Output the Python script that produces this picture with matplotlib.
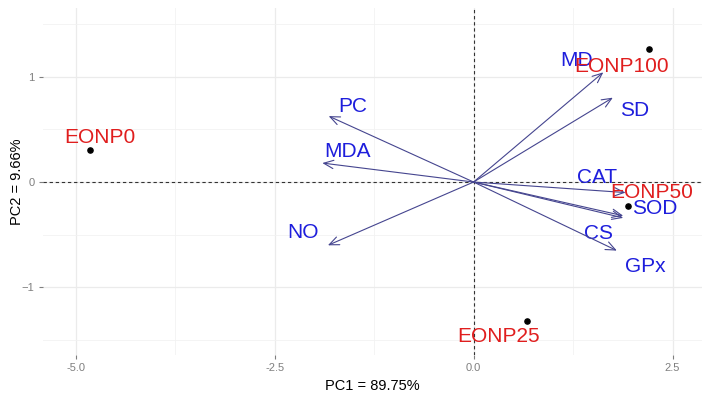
import matplotlib
matplotlib.use("Agg")
import matplotlib.pyplot as plt
import numpy as np

plt.rcParams['font.family'] = ['Liberation Sans', 'DejaVu Sans']

# sample scores (PC1, PC2)
samples = ["EONP0", "EONP25", "EONP50", "EONP100"]
sample_pc1 = [-4.82, 0.67, 1.94, 2.21]
sample_pc2 = [0.30, -1.32, -0.23, 1.26]

# variable loadings (arrow tips)
variables = ["MD", "SD", "CAT", "SOD", "CS", "GPx", "PC", "MDA", "NO"]
var_pc1 = [1.63, 1.75, 1.91, 1.88, 1.88, 1.80, -1.82, -1.90, -1.83]
var_pc2 = [1.04, 0.80, -0.10, -0.34, -0.32, -0.65, 0.625, 0.18, -0.60]

x_label = "PC1 = 89.75%"
y_label = "PC2 = 9.66%"

# label placement (repelled text positions, data units)
sample_text = {"EONP0": (-4.69, 0.42), "EONP25": (0.31, -1.46),
               "EONP50": (2.24, -0.10), "EONP100": (1.86, 1.10)}
var_text = {"MD": (1.30, 1.15), "SD": (2.02, 0.68), "CAT": (1.55, 0.04),
            "SOD": (2.28, -0.25), "CS": (1.57, -0.49), "GPx": (2.16, -0.80),
            "PC": (-1.52, 0.72), "MDA": (-1.58, 0.29), "NO": (-2.14, -0.48)}

fig = plt.figure(figsize=(7.08, 4.0), dpi=100)
ax = fig.add_axes([0.0607, 0.1125, 0.9308, 0.8675])

ax.set_xlim(-5.41, 2.87)
ax.set_ylim(-1.64, 1.65)

# theme_minimal style grid
ax.set_xticks([-5.0, -2.5, 0.0, 2.5])
ax.set_xticklabels(["-5.0", "-2.5", "0.0", "2.5"])
ax.set_yticks([-1, 0, 1])
ax.set_yticks([-1.5, -0.5, 0.5, 1.5], minor=True)
ax.set_xticks([-3.75, -1.25, 1.25], minor=True)
ax.grid(True, which='major', color='#EBEBEB', linewidth=0.9)
ax.grid(True, which='minor', color='#F2F2F2', linewidth=0.6)
ax.set_axisbelow(True)
for s in ax.spines.values():
    s.set_visible(False)
ax.tick_params(which='major', length=3, width=0.8, color='#7F7F7F',
               labelcolor='#7F7F7F', labelsize=8, pad=3)
ax.tick_params(which='minor', length=0)

ax.axhline(0, color='#333333', linestyle=(0, (3, 2.5)), linewidth=0.8)
ax.axvline(0, color='#333333', linestyle=(0, (3, 2.5)), linewidth=0.8)

# arrows
for v, x, y in zip(variables, var_pc1, var_pc2):
    ax.annotate("", xy=(x, y), xytext=(0, 0),
                arrowprops=dict(arrowstyle='->,head_length=0.7,head_width=0.3',
                                color='#45458F', linewidth=0.8,
                                shrinkA=0, shrinkB=0, mutation_scale=10))
    tx, ty = var_text[v]
    ax.text(tx, ty, v, color='#1E1EDC', fontsize=15, ha='center', va='center')

# samples
ax.scatter(sample_pc1, sample_pc2, s=14, color='black', zorder=3)
for smp in samples:
    tx, ty = sample_text[smp]
    ax.text(tx, ty, smp, color='#E01E1E', fontsize=15, ha='center', va='center')

ax.set_xlabel(x_label, fontsize=10.5, labelpad=4)
# y title placed by hand so it stays inside the figure
fig.text(17 / 708, 0.1125 + 0.8675 / 2, y_label, fontsize=10.5,
         rotation=90, ha='center', va='center')

fig.savefig("out.png", dpi=100)
